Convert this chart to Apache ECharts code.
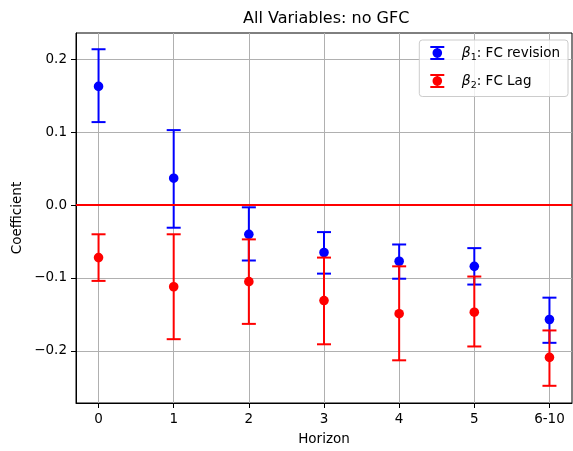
<!DOCTYPE html>
<html>
<head>
<meta charset="utf-8">
<script src="https://cdn.jsdelivr.net/npm/echarts@6/dist/echarts.min.js"></script>
<style>html,body{margin:0;padding:0;background:#fff}#c{width:573px;height:451px}</style>
</head>
<body>
<div id="c"></div>
<script>
// ---- data ----
const horizons = ['0', '1', '2', '3', '4', '5', '6-10'];
const beta1Coef = [0.163, 0.037, -0.040, -0.065, -0.077, -0.084, -0.157];
const beta1Lo   = [0.114, -0.031, -0.076, -0.094, -0.101, -0.109, -0.189];
const beta1Hi   = [0.214, 0.103, -0.003, -0.037, -0.054, -0.059, -0.127];
const beta2Coef = [-0.072, -0.112, -0.105, -0.131, -0.149, -0.147, -0.209];
const beta2Lo   = [-0.104, -0.184, -0.163, -0.191, -0.213, -0.194, -0.248];
const beta2Hi   = [-0.040, -0.040, -0.047, -0.072, -0.084, -0.098, -0.172];
const yTicks = [-0.2, -0.1, 0.0, 0.1, 0.2];

const FONT = 'DejaVu Sans';
const xIdx = horizons.map((_, i) => i);

function makeData(c, lo, hi) {
  return c.map((v, i) => [i, v, lo[i], hi[i]]);
}
function renderErr(color) {
  return function (params, api) {
    const x = api.value(0), y = api.value(1), lo = api.value(2), hi = api.value(3);
    const pLo = api.coord([x, lo]), pHi = api.coord([x, hi]), p = api.coord([x, y]);
    const st = { stroke: color, lineWidth: 2 };
    const cap = 7;
    return {
      type: 'group',
      children: [
        { type: 'line', shape: { x1: pLo[0], y1: pLo[1], x2: pHi[0], y2: pHi[1] }, style: st },
        { type: 'line', shape: { x1: pLo[0] - cap, y1: pLo[1], x2: pLo[0] + cap, y2: pLo[1] }, style: st },
        { type: 'line', shape: { x1: pHi[0] - cap, y1: pHi[1], x2: pHi[0] + cap, y2: pHi[1] }, style: st },
        { type: 'circle', shape: { cx: p[0], cy: p[1], r: 4.8 }, style: { fill: color } }
      ]
    };
  };
}
const icon = 'path://M0 0H14V2H0Z M0 12H14V14H0Z M6 0H8V14H6Z M2.2 7A4.8 4.8 0 1 1 11.8 7A4.8 4.8 0 1 1 2.2 7Z';
const fmtNum = v => (v < 0 ? '\u2212' : '') + Math.abs(v).toFixed(1);

const chart = echarts.init(document.getElementById('c'), null, { renderer: 'canvas' });
chart.setOption({
  animation: false,
  backgroundColor: '#fff',
  textStyle: { fontFamily: FONT },
  title: {
    text: 'All Variables: no GFC',
    left: 238, top: 6,
    textStyle: { fontFamily: FONT, fontSize: 16, fontWeight: 'normal', color: '#000' }
  },
  grid: {
    left: 76, right: 1, top: 33, bottom: 46,
    show: true, borderColor: '#000', borderWidth: 1, backgroundColor: 'transparent'
  },
  legend: {
    right: 5, top: 40,
    orient: 'vertical',
    itemWidth: 15, itemHeight: 14, itemGap: 11.5,
    padding: [6, 8, 6, 11],
    backgroundColor: 'rgba(255,255,255,0.8)',
    borderColor: '#cccccc', borderWidth: 1, borderRadius: 3,
    data: [
      { name: 'b1', icon: icon },
      { name: 'b2', icon: icon }
    ],
    formatter: function (n) {
      return n === 'b1' ? '{b|β}{s|1}{t|: FC revision}' : '{b|β}{s|2}{t|: FC Lag}';
    },
    textStyle: {
      fontFamily: FONT, fontSize: 13.5, color: '#000',
      padding: [0, 0, 0, 12],
      rich: {
        b: { fontFamily: FONT, fontSize: 14, fontStyle: 'italic', color: '#000' },
        s: { fontFamily: FONT, fontSize: 9.5, color: '#000', padding: [9, 0, 0, 0] },
        t: { fontFamily: FONT, fontSize: 13.5, color: '#000' }
      }
    }
  },
  xAxis: {
    type: 'value', min: -0.3, max: 6.3,
    name: 'Horizon', nameLocation: 'middle', nameGap: 29, nameMoveOverlap: false,
    nameTextStyle: { fontFamily: FONT, fontSize: 13.5, color: '#000' },
    axisLine: { show: true, onZero: false, lineStyle: { color: '#000', width: 1 } },
    axisTick: { show: true, inside: false, customValues: xIdx, length: 5, lineStyle: { color: '#000', width: 1 } },
    axisLabel: {
      customValues: xIdx, margin: 9, fontFamily: FONT, fontSize: 13.5, color: '#000',
      formatter: v => horizons[Math.round(v)]
    },
    splitLine: { show: true, lineStyle: { color: '#b0b0b0', width: 1 } }
  },
  yAxis: {
    type: 'value', min: -0.2716, max: 0.2363,
    name: 'Coefficient', nameLocation: 'middle', nameGap: 52, nameMoveOverlap: false,
    nameTextStyle: { fontFamily: FONT, fontSize: 13.5, color: '#000' },
    axisLine: { show: true, onZero: false, lineStyle: { color: '#000', width: 1 } },
    axisTick: { show: true, inside: false, customValues: yTicks, length: 5, lineStyle: { color: '#000', width: 1 } },
    axisLabel: {
      customValues: yTicks, margin: 9, fontFamily: FONT, fontSize: 13.5, color: '#000',
      formatter: fmtNum
    },
    splitLine: { show: true, lineStyle: { color: '#b0b0b0', width: 1 } }
  },
  series: [
    {
      name: 'b1', type: 'custom', renderItem: renderErr('#0000ff'),
      itemStyle: { color: '#0000ff' }, z: 3,
      encode: { x: 0, y: [1, 2, 3] },
      data: makeData(beta1Coef, beta1Lo, beta1Hi)
    },
    {
      name: 'b2', type: 'custom', renderItem: renderErr('#ff0000'),
      itemStyle: { color: '#ff0000' }, z: 4,
      encode: { x: 0, y: [1, 2, 3] },
      data: makeData(beta2Coef, beta2Lo, beta2Hi),
      markLine: {
        silent: true, symbol: 'none', z: 10,
        label: { show: false },
        lineStyle: { color: '#ff0000', width: 2, type: 'solid' },
        data: [{ yAxis: 0 }]
      }
    }
  ]
});
</script>
</body>
</html>
